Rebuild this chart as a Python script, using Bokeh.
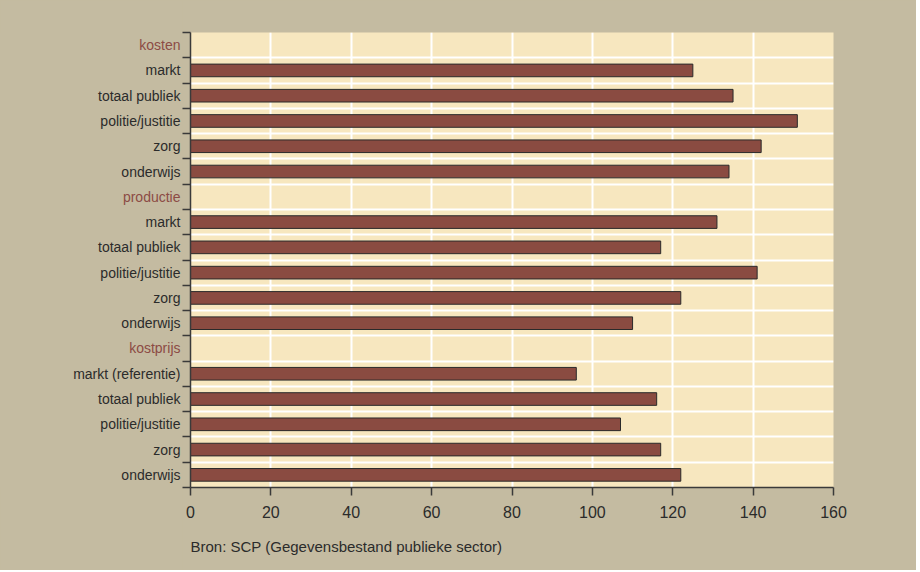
from bokeh.plotting import figure
from bokeh.models import FixedTicker, Range1d, Title, ColumnDataSource
from bokeh.core.properties import value
from bokeh.layouts import row
from bokeh.embed import file_html
from bokeh.resources import INLINE

# ---- data ----
groups = ["kosten", "productie", "kostprijs"]
sectors_kosten = ["markt", "totaal publiek", "politie/justitie", "zorg", "onderwijs"]
sectors_productie = ["markt", "totaal publiek", "politie/justitie", "zorg", "onderwijs"]
sectors_kostprijs = ["markt (referentie)", "totaal publiek", "politie/justitie", "zorg", "onderwijs"]
values_kosten = [125, 135, 151, 142, 134]
values_productie = [131, 117, 141, 122, 110]
values_kostprijs = [96, 116, 107, 117, 122]
x_ticks = [0, 20, 40, 60, 80, 100, 120, 140, 160]
source_text = "Bron: SCP (Gegevensbestand publieke sector)"

# ---- styles ----
BAR = "#8a4b41"
HEAD = "#8c4b45"
TXT = "#2b2b2b"
AX = "#3a3a3a"
OUTER = "#c4bba1"
INNER = "#f7e7bf"
FONT = "Liberation Sans"

labels, values, colors = [], [], []
for g, secs, vals in [(groups[0], sectors_kosten, values_kosten),
                      (groups[1], sectors_productie, values_productie),
                      (groups[2], sectors_kostprijs, values_kostprijs)]:
    labels.append(g); values.append(None); colors.append(HEAD)
    for s, v in zip(secs, vals):
        labels.append(s); values.append(v); colors.append(TXT)

n = len(labels)
ypos = [i + 0.5 for i in range(n)]
bar_y = [y for y, v in zip(ypos, values) if v is not None]
bar_v = [v for v in values if v is not None]

yr = Range1d(n, 0)

# ---- label column (left) ----
lp = figure(frame_width=182, frame_height=455, output_backend="svg", toolbar_location=None,
            x_range=Range1d(0, 1), y_range=yr, x_axis_type=None, y_axis_type=None,
            min_border_left=0, min_border_right=0, min_border_top=32, min_border_bottom=83)
lp.background_fill_color = None
lp.border_fill_color = OUTER
lp.outline_line_color = None
lp.grid.visible = False
lab_src = ColumnDataSource(dict(x=[1] * n, y=ypos, text=labels, color=colors))
lp.text(x="x", y="y", text="text", source=lab_src, x_offset=-2,
        text_align="right", text_baseline="middle", text_color="color",
        text_font=value(FONT), text_font_size=value("14px"))

# ---- main chart ----
p = figure(frame_width=643, frame_height=455, output_backend="svg", toolbar_location=None,
           x_range=Range1d(0, 160), y_range=yr,
           min_border_left=8, min_border_right=83, min_border_top=32, min_border_bottom=83)
p.background_fill_color = INNER
p.border_fill_color = OUTER
p.outline_line_color = None

p.xgrid.ticker = FixedTicker(ticks=x_ticks)
p.xgrid.grid_line_color = "white"
p.xgrid.grid_line_width = 2
p.ygrid.ticker = FixedTicker(ticks=list(range(n + 1)))
p.ygrid.grid_line_color = "white"
p.ygrid.grid_line_width = 2

bars = ColumnDataSource(dict(y=bar_y, v=bar_v))
p.hbar(y="y", right="v", left=0, height=0.5, source=bars,
       fill_color=BAR, line_color="#2a2a2a", line_width=1)

xa = p.xaxis[0]
xa.ticker = FixedTicker(ticks=x_ticks)
xa.major_label_text_font = FONT
xa.major_label_text_font_size = "16px"
xa.major_label_text_color = TXT
xa.major_tick_out = 8
xa.major_tick_in = 0
xa.minor_tick_line_color = None
xa.axis_line_color = AX
xa.axis_line_width = 1.5
xa.major_tick_line_color = AX
xa.major_tick_line_width = 1.5
xa.major_label_standoff = 10

ya = p.yaxis[0]
ya.ticker = FixedTicker(ticks=list(range(n + 1)))
ya.major_label_overrides = {i: "" for i in range(n + 1)}
ya.major_label_standoff = 0
ya.major_tick_out = 8
ya.major_tick_in = 0
ya.minor_tick_line_color = None
ya.axis_line_color = AX
ya.axis_line_width = 1.5
ya.major_tick_line_color = AX
ya.major_tick_line_width = 1.5

p.add_layout(Title(text=source_text, align="left", text_font=FONT,
                   text_font_size="15px", text_font_style="normal",
                   text_color=TXT, standoff=30), "below")

layout = row(lp, p, spacing=0, styles={"background-color": OUTER})
open("out.html", "w").write(file_html(layout, INLINE))
